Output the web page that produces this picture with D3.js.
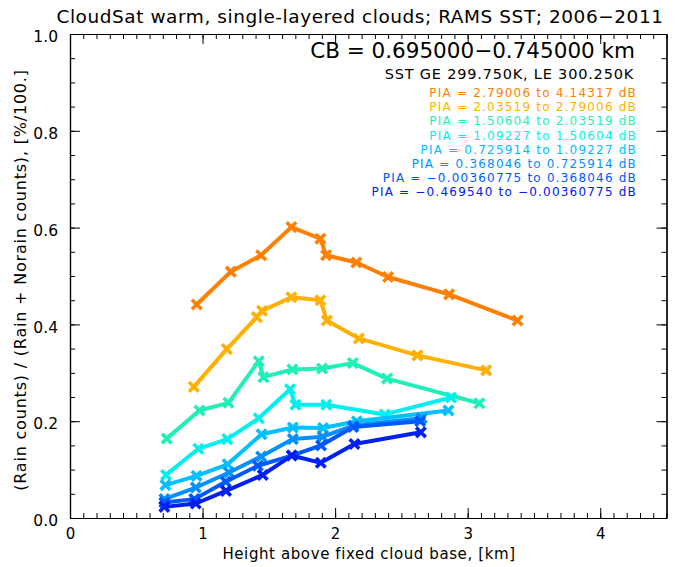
<!DOCTYPE html>
<html>
<head>
<meta charset="utf-8">
<script src="https://cdn.jsdelivr.net/npm/d3@7"></script>
<style>
  html, body { margin: 0; padding: 0; background: #fff; }
  svg { display: block; }
  text { font-family: "DejaVu Sans", "Liberation Sans", sans-serif; fill: #000; }
</style>
</head>
<body>
<svg id="chart" width="676" height="567"></svg>
<script>
// Rain fraction vs. height above a fixed cloud base, one curve per PIA bin
const xMajorTicks = [0, 1, 2, 3, 4];
const yMajorTicks = [0.0, 0.2, 0.4, 0.6, 0.8, 1.0];

const piaLabels = [
  "PIA = 2.79006 to 4.14317 dB",
  "PIA = 2.03519 to 2.79006 dB",
  "PIA = 1.50604 to 2.03519 dB",
  "PIA = 1.09227 to 1.50604 dB",
  "PIA = 0.725914 to 1.09227 dB",
  "PIA = 0.368046 to 0.725914 dB",
  "PIA = \u22120.00360775 to 0.368046 dB",
  "PIA = \u22120.469540 to \u22120.00360775 dB"
];
const piaColors = ["#ff8000", "#ffb000", "#1ef0b8", "#00f0f0", "#00c0ff", "#0090ff", "#0058ff", "#0020f0"];

// height above cloud base [km]
const heights0 = [0.956, 1.213, 1.442, 1.670, 1.889, 1.932, 2.161, 2.400, 2.860, 3.376];
const heights1 = [0.934, 1.183, 1.409, 1.449, 1.670, 1.889, 1.937, 2.179, 2.621, 3.140];
const heights2 = [0.730, 0.976, 1.195, 1.424, 1.459, 1.678, 1.902, 2.134, 2.392, 3.089];
const heights3 = [0.725, 0.968, 1.187, 1.424, 1.660, 1.700, 1.934, 2.375, 2.875];
const heights4 = [0.720, 0.955, 1.189, 1.445, 1.681, 1.909, 2.164, 2.855];
const heights5 = [0.712, 0.949, 1.200, 1.442, 1.681, 1.907, 2.138, 2.654];
const heights6 = [0.712, 0.938, 1.175, 1.417, 1.673, 1.894, 2.136, 2.642];
const heights7 = [0.712, 0.949, 1.177, 1.454, 1.673, 1.892, 2.146, 2.647];

// rain fraction [%/100]
const frac0 = [0.441, 0.509, 0.543, 0.601, 0.577, 0.543, 0.528, 0.498, 0.462, 0.408];
const frac1 = [0.271, 0.349, 0.415, 0.428, 0.456, 0.450, 0.408, 0.371, 0.336, 0.305];
const frac2 = [0.164, 0.222, 0.238, 0.324, 0.291, 0.307, 0.309, 0.320, 0.288, 0.237];
const frac3 = [0.089, 0.143, 0.163, 0.206, 0.266, 0.234, 0.234, 0.214, 0.249];
const frac4 = [0.068, 0.087, 0.111, 0.173, 0.187, 0.186, 0.200, 0.222];
const frac5 = [0.039, 0.063, 0.094, 0.127, 0.163, 0.168, 0.191, 0.206];
const frac6 = [0.032, 0.039, 0.075, 0.108, 0.129, 0.150, 0.188, 0.200];
const frac7 = [0.023, 0.030, 0.056, 0.089, 0.129, 0.114, 0.153, 0.177];

const allHeights = [heights0, heights1, heights2, heights3, heights4, heights5, heights6, heights7];
const allFrac = [frac0, frac1, frac2, frac3, frac4, frac5, frac6, frac7];

const svg = d3.select("#chart");
const L = 70, R = 666.5, T = 34, B = 518;

const x = d3.scaleLinear().domain([0, 4.5]).range([L, R]);
const y = d3.scaleLinear().domain([0, 1]).range([B, T]);

const xMinor = d3.range(0, 4.5001, 0.1).map(v => +v.toFixed(2));
const yMinor = d3.range(0, 1.0001, 0.05).map(v => +v.toFixed(2));

function styleAxis(g) {
  g.selectAll("path.domain").attr("stroke", "#000").attr("stroke-width", 1.2);
  g.selectAll(".tick line").attr("stroke", "#000").attr("stroke-width", 1);
}

// minor ticks on all four sides
svg.append("g").attr("transform", `translate(0,${B})`)
  .call(d3.axisBottom(x).tickValues(xMinor).tickSize(-5).tickSizeOuter(0).tickFormat(""))
  .call(styleAxis);
svg.append("g").attr("transform", `translate(0,${T})`)
  .call(d3.axisTop(x).tickValues(xMinor).tickSize(-5).tickSizeOuter(0).tickFormat(""))
  .call(styleAxis);
svg.append("g").attr("transform", `translate(${L},0)`)
  .call(d3.axisLeft(y).tickValues(yMinor).tickSize(-5).tickSizeOuter(0).tickFormat(""))
  .call(styleAxis);
svg.append("g").attr("transform", `translate(${R},0)`)
  .call(d3.axisRight(y).tickValues(yMinor).tickSize(-5).tickSizeOuter(0).tickFormat(""))
  .call(styleAxis);

// major ticks and labels
const xAx = svg.append("g").attr("transform", `translate(0,${B})`)
  .call(d3.axisBottom(x).tickValues(xMajorTicks).tickSize(-10).tickSizeOuter(0).tickPadding(8).tickFormat(d3.format("d")))
  .call(styleAxis);
xAx.selectAll("text").attr("font-size", 15).attr("dy", "0.85em")
  .style("font-family", "DejaVu Sans, sans-serif");
svg.append("g").attr("transform", `translate(0,${T})`)
  .call(d3.axisTop(x).tickValues(xMajorTicks).tickSize(-10).tickSizeOuter(0).tickFormat(""))
  .call(styleAxis);
const yAx = svg.append("g").attr("transform", `translate(${L},0)`)
  .call(d3.axisLeft(y).tickValues(yMajorTicks).tickSize(-10).tickSizeOuter(0).tickPadding(12).tickFormat(d3.format(".1f")))
  .call(styleAxis);
yAx.selectAll("text").attr("font-size", 15.5).attr("dy", "0.5em")
  .style("font-family", "DejaVu Sans, sans-serif");
svg.append("g").attr("transform", `translate(${R},0)`)
  .call(d3.axisRight(y).tickValues(yMajorTicks).tickSize(-10).tickSizeOuter(0).tickFormat(""))
  .call(styleAxis);

// series lines and X markers
const line = d3.line().x(d => x(d[0])).y(d => y(d[1]));
const markerPath = "M-3.5,-3.5L3.5,3.5M-3.5,3.5L3.5,-3.5";

allFrac.forEach((vals, i) => {
  const pts = vals.map((v, j) => [allHeights[i][j], v]);
  const g = svg.append("g");
  g.append("path")
    .attr("d", line(pts))
    .attr("fill", "none")
    .attr("stroke", piaColors[i])
    .attr("stroke-width", 4)
    .attr("stroke-linejoin", "round");
  g.selectAll("path.mk").data(pts).join("path")
    .attr("class", "mk")
    .attr("transform", d => `translate(${x(d[0])},${y(d[1])})`)
    .attr("d", markerPath)
    .attr("stroke", piaColors[i])
    .attr("stroke-width", 3.6)
    .attr("stroke-linecap", "square");
});

// titles and annotations
svg.append("text").attr("x", 360).attr("y", 23).attr("text-anchor", "middle")
  .attr("font-size", 18.5).attr("letter-spacing", 0.55)
  .text("CloudSat warm, single-layered clouds; RAMS SST; 2006\u22122011");
svg.append("text").attr("x", 635).attr("y", 58).attr("text-anchor", "end")
  .attr("font-size", 21.5).text("CB = 0.695000\u22120.745000 km");
svg.append("text").attr("x", 634).attr("y", 79).attr("text-anchor", "end")
  .attr("font-size", 14.5).attr("letter-spacing", 0.8).text("SST GE 299.750K, LE 300.250K");

piaLabels.forEach((t, i) => {
  svg.append("text").attr("x", 637).attr("y", 97 + i * 14.2).attr("text-anchor", "end")
    .attr("font-size", 12).attr("letter-spacing", 1.2)
    .style("fill", piaColors[i]).text(t);
});

svg.append("text").attr("x", 369).attr("y", 559).attr("text-anchor", "middle")
  .attr("font-size", 15).attr("letter-spacing", 0.6).text("Height above fixed cloud base, [km]");
svg.append("text").attr("transform", "translate(26,280) rotate(-90)").attr("text-anchor", "middle")
  .attr("font-size", 16).attr("letter-spacing", 0.8)
  .text("(Rain counts) / (Rain + Norain counts), [%/100.]");
</script>
</body>
</html>
